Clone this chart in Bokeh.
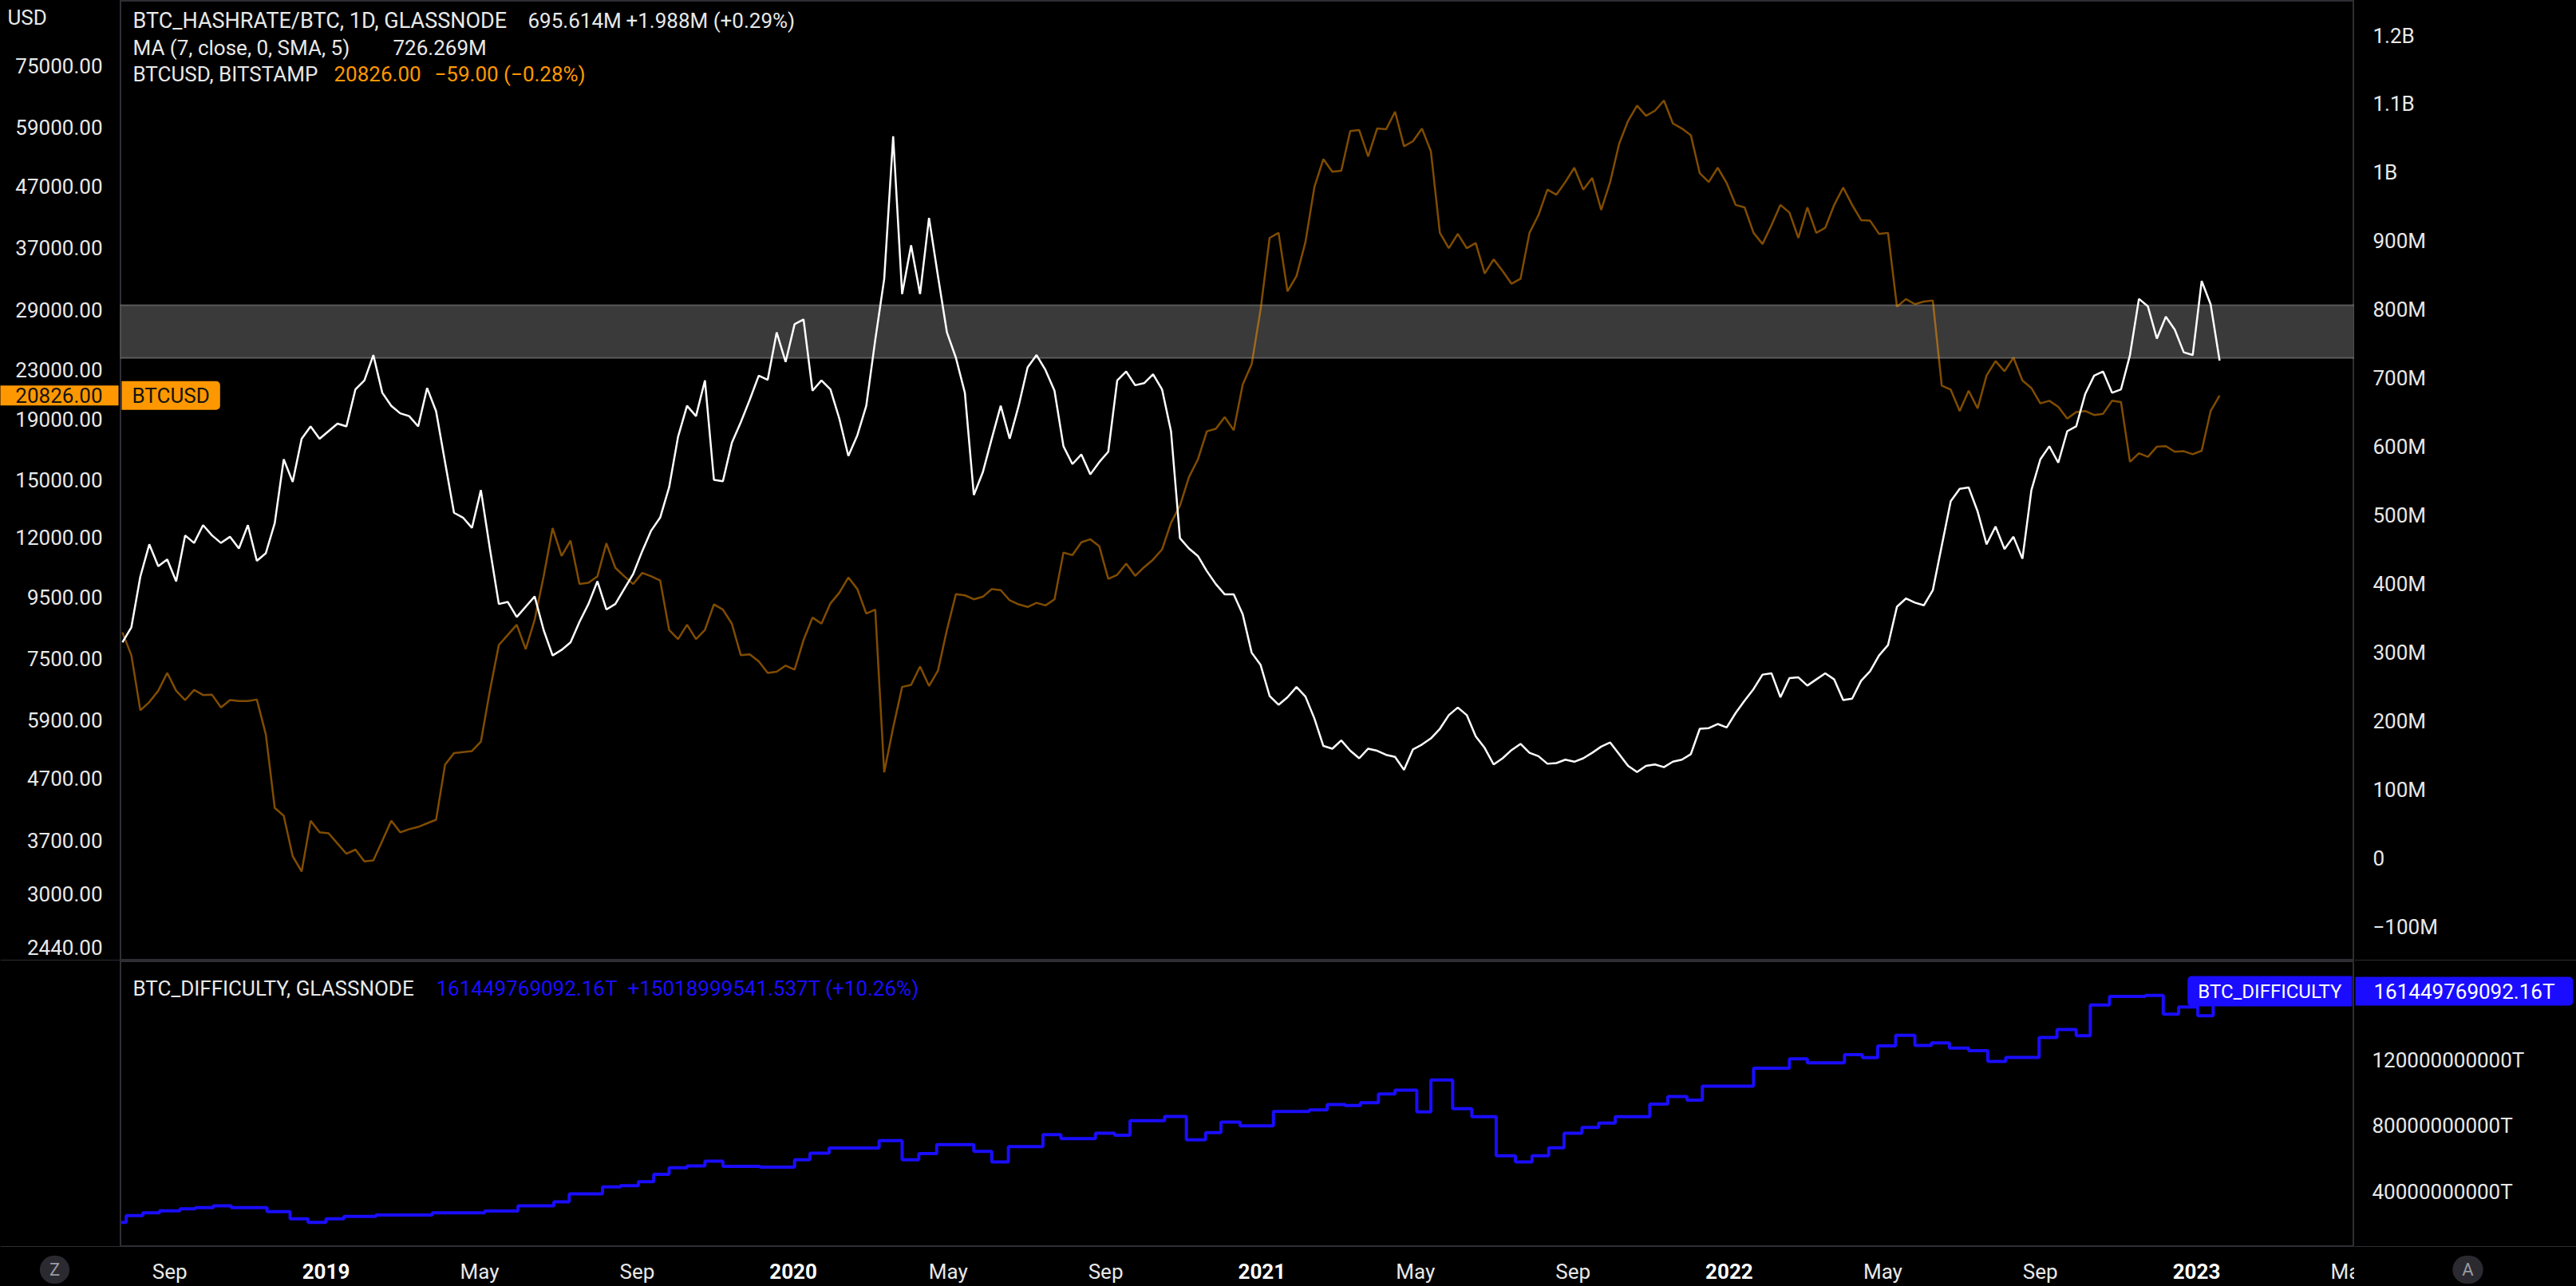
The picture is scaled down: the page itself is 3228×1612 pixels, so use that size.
import pandas as pd
from bokeh.plotting import figure
from bokeh.layouts import column, row
from bokeh.models import (Range1d, LinearScale, BoxAnnotation, Label, Span, ColumnDataSource)
from bokeh.core.properties import value
from bokeh.embed import file_html
from bokeh.resources import INLINE

FONT = "Roboto"

# ---------------- data ----------------
week_start = "2018-07-26"   # weekly samples, 7 days apart

btcusd = [
    8298, 7590, 6128, 6327, 6611, 7086, 6611, 6377, 6632, 6503, 6510, 6199, 6377, 6352, 6352, 6390,
    5583, 4193, 4069, 3476, 3275, 3989, 3814, 3800, 3652, 3509, 3566, 3407, 3420, 3689, 3989, 3814,
    3861, 3895, 3950, 4006, 4960, 5190, 5210, 5230, 5425, 6611, 7898, 8214, 8547, 7771, 8712, 10315,
    12441, 11163, 11847, 10010, 10060, 10315, 11727, 10661, 10315, 10010, 10453, 10315, 10152, 8377, 8083,
    8547, 8083, 8377, 9250, 9065, 8582, 7590, 7618, 7410, 7086, 7120, 7292, 7178, 8052, 8787, 8582,
    9285, 9682, 10270, 9817, 8923, 9065, 4816, 5731, 6710, 6764, 7263, 6737, 7150, 8377, 9625, 9580,
    9434, 9526, 9817, 9774, 9397, 9250, 9157, 9305, 9213, 9434, 11313, 11201, 11774, 11914, 11590, 10213,
    10375, 10838, 10334, 10689, 11008, 11448, 12696, 13576, 15165, 16250, 18122, 18300, 19151, 18193, 21733, 23527,
    29124, 38423, 39188, 31216, 33124, 37819, 46821, 52197, 49686, 49900, 58197, 58431, 52722, 58779, 58600, 62744,
    54849, 55949, 58779, 53778, 39188, 36925, 39032, 36925, 37670, 33450, 35358, 33784, 32152, 32798, 39188, 41997,
    46359, 45451, 47756, 50473, 46359, 48522, 42834, 47756, 55396, 60552, 64248, 61758, 62993, 65531, 59956, 58779,
    57290, 49395, 47756, 50473, 47572, 43686, 43258, 39188, 37522, 40366, 43686, 42416, 38423, 43258, 39188, 39969,
    43686, 46727, 43686, 41167, 41089, 39032, 39188, 29414, 30301, 29705, 30003, 30124, 21647, 21307, 19611, 21222,
    19805, 22520, 23804, 22882, 24137, 22080, 21435, 20200, 20406, 19924, 19037, 19534, 19611, 19307, 19400, 20406,
    20300, 16094, 16640, 16413, 17073, 17108, 16739, 16774, 16576, 16803, 19611, 20826,
]

hashrate_btc_ma_m = [
    315, 337, 411, 458, 426, 436, 404, 471, 460, 486, 471, 460, 469, 452, 486, 434,
    445, 489, 582, 549, 612, 630, 612, 623, 634, 630, 684, 697, 734, 679, 660, 649,
    645, 630, 686, 652, 578, 504, 497, 482, 537, 452, 371, 374, 352, 367, 382, 333,
    296, 304, 315, 345, 371, 404, 363, 371, 393, 415, 448, 478, 497, 541, 615,
    660, 645, 697, 552, 550, 606, 636, 669, 704, 698, 767, 724, 779, 786, 682, 697,
    684, 641, 587, 617, 660, 756, 845, 1053, 823, 894, 823, 934, 849, 767, 730, 679,
    530, 563, 612, 660, 612, 660, 716, 734, 712, 682, 601, 575, 589, 560, 578, 593,
    697, 710, 690, 693, 706, 684, 623, 467, 452, 441, 419, 400, 385, 385, 356, 300,
    282, 237, 224, 235, 250, 236, 204, 164, 160, 172, 157, 146, 160, 157, 151, 148,
    129, 159, 166, 175, 189, 209, 220, 209, 178, 161, 137, 146, 158, 167, 154, 149,
    138, 139, 144, 141, 146, 154, 163, 169, 152, 135, 126, 135, 137, 133, 141, 144,
    152, 189, 190, 196, 191, 212, 230, 247, 268, 270, 235, 263, 264, 252, 261, 270,
    261, 231, 233, 259, 273, 296, 311, 367, 379, 373, 369, 391, 456, 521, 539, 541,
    506, 458, 484, 451, 469, 437, 537, 582, 601, 577, 623, 630, 677, 704, 710, 679,
    684, 734, 816, 805, 758, 790, 771, 738, 734, 842, 808, 726,
]

difficulty_dates = [
    "2018-07-25", "2018-07-29", "2018-08-11", "2018-08-24", "2018-09-09", "2018-09-21", "2018-10-05",
    "2018-10-19", "2018-11-16", "2018-12-04", "2018-12-18", "2019-01-01", "2019-01-15", "2019-02-09",
    "2019-03-25", "2019-05-05", "2019-05-31", "2019-06-28", "2019-07-10", "2019-08-05", "2019-08-19",
    "2019-09-02", "2019-09-14", "2019-09-26", "2019-10-10", "2019-10-24", "2019-11-07", "2019-12-06",
    "2020-01-02", "2020-01-14", "2020-01-29", "2020-03-08", "2020-03-26", "2020-04-08", "2020-04-22",
    "2020-05-21", "2020-06-04", "2020-06-17", "2020-07-14", "2020-07-28", "2020-08-24", "2020-09-08",
    "2020-09-20", "2020-10-17", "2020-11-03", "2020-11-18", "2020-11-30", "2020-12-15", "2021-01-10",
    "2021-02-07", "2021-02-21", "2021-03-07", "2021-03-19", "2021-04-02", "2021-04-15", "2021-05-02",
    "2021-05-13", "2021-05-30", "2021-06-14", "2021-07-03", "2021-07-18", "2021-07-31", "2021-08-13",
    "2021-08-25", "2021-09-08", "2021-09-21", "2021-10-04", "2021-10-31", "2021-11-14", "2021-11-29",
    "2021-12-11", "2022-01-20", "2022-02-17", "2022-03-03", "2022-04-01", "2022-04-15", "2022-04-27",
    "2022-05-11", "2022-05-26", "2022-06-08", "2022-06-22", "2022-07-07", "2022-07-22", "2022-08-05",
    "2022-08-31", "2022-09-14", "2022-09-29", "2022-10-10", "2022-10-25", "2022-11-22", "2022-12-06",
    "2022-12-18", "2023-01-02", "2023-01-14", "2023-01-19",
]
difficulty_g = [
    21.8, 25.9, 27.5, 28.8, 30.0, 30.7, 31.8,
    30.7, 28.3, 23.9, 21.8, 23.9, 25.4, 26.2,
    27.5, 28.6, 31.8, 34.2, 39.0, 43.2, 43.9,
    46.3, 50.8, 54.8, 55.9, 58.8, 55.6, 55.1,
    59.6, 63.6, 66.7, 71.2, 59.6, 63.3, 68.8,
    64.7, 58.3, 67.6, 74.8, 72.4, 75.7, 74.4,
    83.2, 85.8, 71.7, 76.0, 82.4, 80.1, 88.8,
    89.8, 93.0, 92.4, 94.1, 99.4, 101.7, 88.5,
    107.8, 90.5, 85.6, 62.0, 58.3, 62.0, 66.8,
    75.7, 79.2, 81.8, 85.6, 93.3, 97.8, 95.7,
    104.1, 115.0, 120.6, 118.2, 123.1, 121.3, 128.4,
    134.8, 128.7, 130.3, 127.1, 125.5, 119.0, 121.4,
    133.5, 138.3, 134.6, 153.1, 158.4, 158.9, 147.6,
    152.0, 146.7, 161.45, 161.45,
]

price_ticks = [75000, 59000, 47000, 37000, 29000, 23000, 19000, 15000, 12000,
               9500, 7500, 5900, 4700, 3700, 3000, 2440]
hash_ticks_m = [-100, 0, 100, 200, 300, 400, 500, 600, 700, 800, 900, 1000, 1100, 1200]
difficulty_ticks = [40e9, 80e9, 120e9]

month_tick_dates = ["2018-09-01", "2019-05-01", "2019-09-01", "2020-05-01", "2020-09-01",
                    "2021-05-01", "2021-09-01", "2022-05-01", "2022-09-01", "2023-05-01"]
month_tick_labels = ["Sep", "May", "Sep", "May", "Sep", "May", "Sep", "May", "Sep", "May"]
year_tick_dates = ["2019-01-01", "2020-01-01", "2021-01-01", "2022-01-01", "2023-01-01"]
year_tick_labels = ["2019", "2020", "2021", "2022", "2023"]

band_low, band_high = 24100, 29600      # grey zone on the price scale

last_price = 20826.00
last_difficulty = 161449769092.16

# ---------------- layout constants (page pixels) ----------------
W_L, W_M, W_R = 150, 2800, 278
H_TOP, H_MID, H_AXIS = 1204, 359, 49
BG = "#000000"
TXT = "#e8e8e8"
ORANGE = "#ff9800"
BLUE = "#1a0dff"
SEP = "#2e2e34"

x0 = pd.Timestamp("2019-01-01") - pd.Timedelta(days=160.8)
x1 = pd.Timestamp("2019-01-01") + pd.Timedelta(days=1584.4)
x_range = Range1d(start=x0, end=x1)
X0 = x0.value / 1e6
X1 = x1.value / 1e6

P_TOP, P_BOT = 96711, 2314
price_range = Range1d(P_BOT, P_TOP)
hash_range = Range1d(-149.5, 1251.2)
diff_range = Range1d(6.7e9, 179.8e9)

dates = pd.date_range(week_start, periods=len(btcusd), freq="7D")
src = ColumnDataSource(dict(date=dates, price=btcusd, ma=hashrate_btc_ma_m))


def fig(w, h, xr, yr, log=False):
    f = figure(width=w, height=h, x_range=xr, y_range=yr,
               y_axis_type="log" if log else "linear",
               x_axis_location=None, y_axis_location=None,
               output_backend="svg", toolbar_location=None,
               min_border_left=0, min_border_right=0, min_border_top=0, min_border_bottom=0)
    f.background_fill_color = BG
    f.border_fill_color = BG
    f.outline_line_color = None
    f.grid.grid_line_color = None
    return f


def label(f, x, y, text, xo=0, yo=0, color=TXT, size="26px", align="left", style_="normal", **kw):
    f.add_layout(Label(x=x, y=y, x_offset=xo, y_offset=yo, text=text, text_font=FONT,
                       text_font_size=size, text_color=color, text_align=align,
                       text_baseline="middle", text_font_style=style_, **kw))


def tick_text(f, x, ys, texts, align):
    s = ColumnDataSource(dict(x=[x] * len(ys), y=ys, t=texts))
    f.text("x", "y", text="t", source=s, text_font=value(FONT), text_font_size="26px",
           text_color=TXT, text_align=align, text_baseline="middle")


def fmt_hash(v):
    if v == 0:
        return "0"
    s = f"{abs(v) / 1000:g}B" if abs(v) >= 1000 else f"{abs(v)}M"
    return ("\u2212" + s) if v < 0 else s


# ---------------- upper pane ----------------
p = fig(W_M, H_TOP, x_range, price_range, log=True)
p.outline_line_color = SEP
p.outline_line_width = 3
p.extra_y_ranges = {"hash": hash_range}
p.extra_y_scales = {"hash": LinearScale()}

p.add_layout(BoxAnnotation(bottom=band_low, top=band_high, fill_color="#3a3a3a", fill_alpha=1.0,
                           line_color="#d8d8d8", line_width=2, level="underlay"))
p.line("date", "price", source=src, line_color=ORANGE, line_alpha=0.5, line_width=2.5)
p.line("date", "ma", source=src, y_range_name="hash", line_color="#ffffff", line_width=2.5)

label(p, X0, P_TOP, "BTC_HASHRATE/BTC, 1D, GLASSNODE", 16, -25, size="27px")
label(p, X0, P_TOP, "695.614M", 511, -25)
label(p, X0, P_TOP, "+1.988M (+0.29%)", 634, -25)
label(p, X0, P_TOP, "MA (7, close, 0, SMA, 5)", 16, -59)
label(p, X0, P_TOP, "726.269M", 342, -59)
label(p, X0, P_TOP, "BTCUSD, BITSTAMP", 16, -92)
label(p, X0, P_TOP, "20826.00", 268, -92, color=ORANGE)
label(p, X0, P_TOP, "\u221259.00 (\u22120.28%)", 394, -92, color=ORANGE)
label(p, X0, last_price, "BTCUSD", 2, 0, color="#141414",
      background_fill_color=ORANGE, padding=dict(left=13, right=13, top=3, bottom=3),
      border_radius=dict(top_left=0, top_right=5, bottom_right=5, bottom_left=0))

# left price scale
pl = fig(W_L, H_TOP, Range1d(0, W_L), price_range, log=True)
tick_text(pl, 128, price_ticks, [f"{v:.2f}" for v in price_ticks], "right")
label(pl, 9, P_TOP, "USD", 0, -21)
label(pl, 148, last_price, f"{last_price:.2f}", color="#141414", align="right",
      background_fill_color=ORANGE, padding=dict(left=20, right=20, top=3, bottom=3),
      border_radius=dict(top_left=0, top_right=0, bottom_right=0, bottom_left=0))
pl.add_layout(Span(location=P_BOT, dimension="width", line_color=SEP, line_width=3))

# right hash scale
pr = fig(W_R, H_TOP, Range1d(2950, 2950 + W_R), hash_range)
tick_text(pr, 2973, hash_ticks_m, [fmt_hash(v) for v in hash_ticks_m], "left")
pr.add_layout(Span(location=hash_range.start, dimension="width", line_color=SEP, line_width=3))

# ---------------- lower pane (difficulty) ----------------
q = fig(W_M, H_MID, x_range, diff_range)
q.outline_line_color = SEP
q.outline_line_width = 3
dsrc = ColumnDataSource(dict(date=pd.to_datetime(difficulty_dates),
                             diff=[v * 1e9 for v in difficulty_g]))
q.step("date", "diff", source=dsrc, mode="after", line_color=BLUE, line_width=4)

q_top = diff_range.end
label(q, X0, q_top, "BTC_DIFFICULTY, GLASSNODE", 16, -34)
label(q, X0, q_top, "161449769092.16T", 396, -34, color=BLUE)
label(q, X0, q_top, "+15018999541.537T (+10.26%)", 636, -34, color=BLUE)
label(q, X1, last_difficulty, "BTC_DIFFICULTY", -3, 0, color="#ffffff", size="24px",
      align="right", background_fill_color=BLUE, padding=dict(left=13, right=13, top=5, bottom=5),
      border_radius=dict(top_left=5, top_right=0, bottom_right=0, bottom_left=5))

ql = fig(W_L, H_MID, Range1d(0, W_L), diff_range)
ql.add_layout(Span(location=diff_range.start, dimension="width", line_color=SEP, line_width=3))

qr = fig(W_R, H_MID, Range1d(2950, 2950 + W_R), diff_range)
tick_text(qr, 2972, difficulty_ticks, [f"{int(v)}T" for v in difficulty_ticks], "left")
label(qr, 2951, last_difficulty, "161449769092.16T", color="#ffffff",
      background_fill_color=BLUE, padding=dict(left=23, right=23, top=3, bottom=3),
      border_radius=dict(top_left=0, top_right=5, bottom_right=5, bottom_left=0))
qr.add_layout(Span(location=diff_range.start, dimension="width", line_color=SEP, line_width=3))

# ---------------- time scale ----------------
t = fig(W_M, H_AXIS, x_range, Range1d(0, H_AXIS))
msrc = ColumnDataSource(dict(x=pd.to_datetime(month_tick_dates), y=[19] * len(month_tick_dates),
                             t=month_tick_labels))
ysrc = ColumnDataSource(dict(x=pd.to_datetime(year_tick_dates), y=[19] * len(year_tick_dates),
                             t=year_tick_labels))
t.text("x", "y", text="t", source=msrc, text_font=value(FONT), text_font_size="26px",
       text_color=TXT, text_align="center", text_baseline="middle")
t.text("x", "y", text="t", source=ysrc, text_font=value(FONT), text_font_size="26px",
       text_color="#ffffff", text_align="center", text_baseline="middle", text_font_style="bold")

tl = fig(W_L, H_AXIS, Range1d(0, W_L), Range1d(0, H_AXIS))
tr = fig(W_R, H_AXIS, Range1d(2950, 2950 + W_R), Range1d(0, H_AXIS))
for f_, xx, ch in [(tl, 68, "Z"), (tr, 3092, "A")]:
    label(f_, xx, 21, ch, color="#9a9aa2", size="22px", align="center",
          background_fill_color="#2a2a30", padding=dict(left=12, right=12, top=5, bottom=5),
          border_radius=dict(top_left=18, top_right=18, bottom_right=18, bottom_left=18))

layout = column(row(pl, p, pr, spacing=0), row(ql, q, qr, spacing=0), row(tl, t, tr, spacing=0),
                spacing=0)

open("out.html", "w").write(
    file_html(layout, INLINE, title="BTC hashrate/BTC vs BTCUSD").replace(
        "<head>", "<head><style>html,body{margin:0;padding:0;background:#000;overflow:hidden}</style>", 1))
